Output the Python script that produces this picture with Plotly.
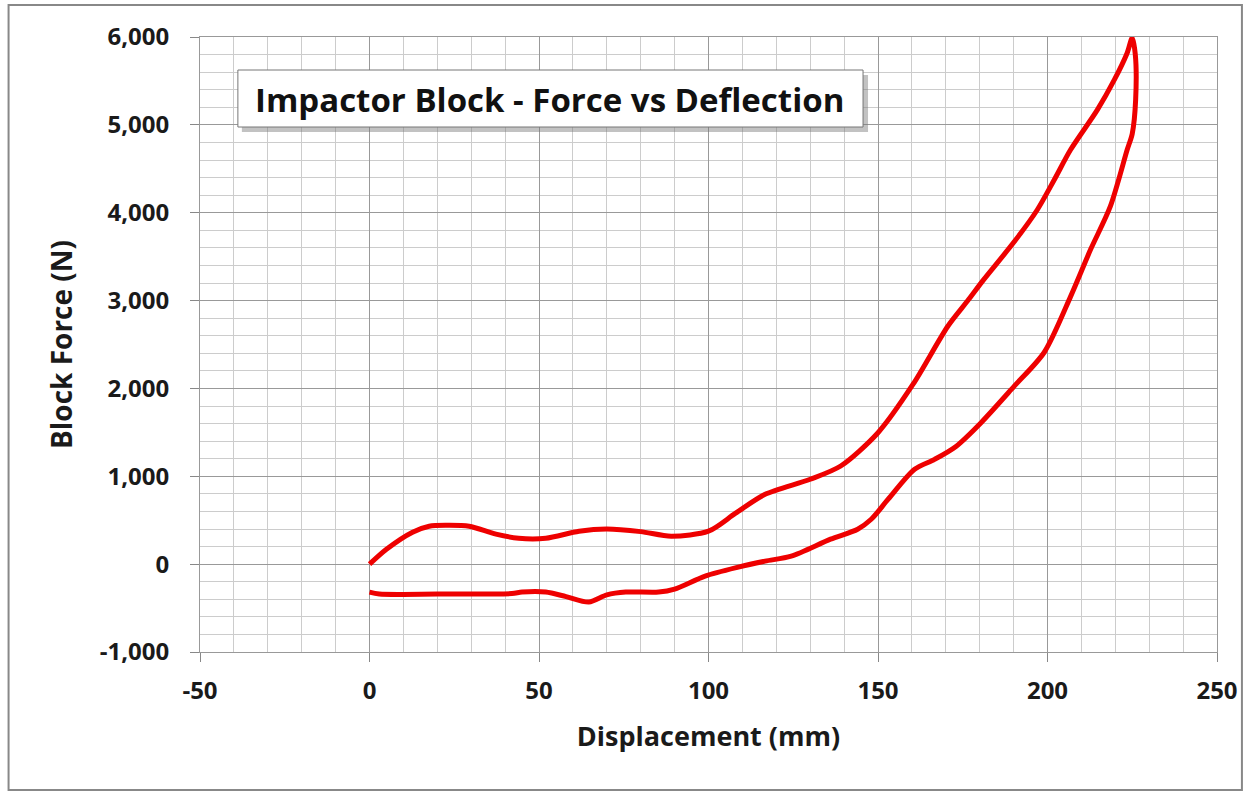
import plotly.graph_objects as go

# Loading branch (displacement mm, force N)
load_x = [0, 5, 12.7, 17.6, 22.5, 29.4, 37.3, 44, 52, 61.8, 70, 80, 89, 100, 108, 116.7,
          130, 139, 150, 160.3, 170.6, 176.5, 181, 190, 197, 202, 206.8, 214.7,
          219.7, 223.5, 225]
load_y = [0, 170, 364, 432, 443, 432, 341, 295, 295, 375, 400, 370, 318, 375, 580, 795,
          966, 1117, 1496, 2045, 2708, 3000, 3230, 3660, 4034, 4375, 4716, 5170,
          5511, 5818, 5990]
# Unloading branch
unload_x = [225.9, 226, 225, 223.5, 218.5, 212.7, 206.8, 199, 190.2, 180.4, 173,
            166.7, 160.8, 153, 148, 144, 136, 124.4, 116.7, 108.8, 99, 90, 85.3, 75.6,
            70, 64.7, 58, 52, 45, 42, 20, 2.9, 0]
unload_y = [5800, 5284, 4900, 4716, 4068, 3580, 3045, 2409, 2026, 1610, 1340,
            1193, 1080, 739, 511, 398, 284, 91, 34, -34, -136, -284, -318, -318,
            -350, -432, -370, -318, -318, -335, -341, -340, -318]

x_ticks = [-50, 0, 50, 100, 150, 200, 250]
x_labels = ["-50", "0", "50", "100", "150", "200", "250"]
y_ticks = [-1000, 0, 1000, 2000, 3000, 4000, 5000, 6000]
y_labels = ["-1,000", "0", "1,000", "2,000", "3,000", "4,000", "5,000", "6,000"]

fig = go.Figure()
fig.add_trace(go.Scatter(
    x=load_x + unload_x, y=load_y + unload_y, mode="lines",
    line=dict(color="#ee0000", width=5, shape="spline", smoothing=0.8),
    showlegend=False, hoverinfo="skip"))

font_family = "'Open Sans', sans-serif"
tick_font = dict(size=24, weight="bold", color="#1a1a1a", family=font_family)
fig.update_layout(
    width=1250, height=792,
    margin=dict(l=200, r=30, t=37, b=140),
    paper_bgcolor="white", plot_bgcolor="white",
    font=dict(family=font_family, color="#1a1a1a"),
    xaxis=dict(range=[-50, 250], tickvals=x_ticks, ticktext=x_labels, ticks="outside",
               ticklen=9, tickcolor="#888888", ticklabelstandoff=8,
               showgrid=True, gridcolor="#999999", gridwidth=1,
               minor=dict(dtick=10, showgrid=True, gridcolor="#cccccc", gridwidth=1),
               showline=True, linecolor="#999999", mirror=True, zeroline=False,
               tickfont=tick_font,
               title=dict(text="Displacement (mm)", standoff=22,
                          font=dict(size=27, weight="bold", color="#1a1a1a"))),
    yaxis=dict(range=[-1000, 6000], tickvals=y_ticks, ticktext=y_labels, ticks="outside",
               ticklen=9, tickcolor="#888888", ticklabelstandoff=16,
               showgrid=True, gridcolor="#999999", gridwidth=1,
               minor=dict(dtick=200, showgrid=True, gridcolor="#cccccc", gridwidth=1),
               showline=True, linecolor="#999999", mirror=True, zeroline=False,
               tickfont=tick_font,
               title=dict(text="Block Force (N)", standoff=18,
                          font=dict(size=28, weight="bold", color="#1a1a1a"))),
)

# outer chart border
fig.add_shape(type="rect", xref="paper", yref="paper",
              x0=-192/1020, x1=(1245-200)/1020, y0=-(790-652)/615, y1=1 + 32/615,
              line=dict(color="#888888", width=2), fillcolor="rgba(0,0,0,0)", layer="below")
# title box shadow
fig.add_shape(type="rect", xref="paper", yref="paper",
              x0=(242-200)/1020, x1=(870-200)/1020,
              y0=(652-132)/615, y1=(652-75)/615,
              line=dict(width=0), fillcolor="rgba(120,120,120,0.45)")
fig.add_shape(type="rect", xref="paper", yref="paper",
              x0=(238-200)/1020, x1=(865-200)/1020,
              y0=(652-127)/615, y1=(652-70)/615,
              line=dict(color="#777777", width=1), fillcolor="white")
fig.add_annotation(xref="paper", yref="paper", x=(551-200)/1020, y=(652-100)/615,
                   xanchor="center", yanchor="middle",
                   text="Impactor Block - Force vs Deflection", showarrow=False,
                   font=dict(size=33, weight="bold", color="#111111", family=font_family))

fig.write_html("out.html")
